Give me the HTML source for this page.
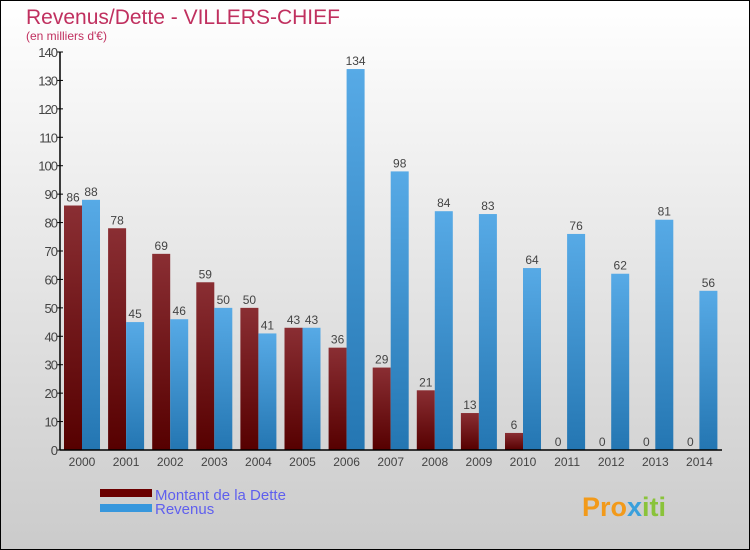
<!DOCTYPE html>
<html><head><meta charset="utf-8"><style>
body{margin:0}
#c{width:750px;height:550px;position:relative;box-sizing:border-box;border:1px solid #000;background:linear-gradient(#fff,#cbcbcb);font-family:"Liberation Sans",sans-serif;overflow:hidden}
</style></head><body>
<div id="c">
<svg id="s" width="750" height="550" style="position:absolute;left:-1px;top:-1px">
<defs>
<linearGradient id="gd" x1="0" y1="0" x2="0" y2="1"><stop offset="0" stop-color="#8a2e33"/><stop offset="1" stop-color="#560000"/></linearGradient>
<linearGradient id="gr" x1="0" y1="0" x2="0" y2="1"><stop offset="0" stop-color="#57aae6"/><stop offset="1" stop-color="#2476b2"/></linearGradient>
</defs>
<text x="26" y="24" font-size="21" fill="#c0305f">Revenus/Dette - VILLERS-CHIEF</text>
<text x="26" y="40" font-size="12" fill="#c0305f">(en milliers d'€)</text>
<g id="plot"></g>
<rect x="100" y="489" width="52" height="8" fill="#6b0000"/>
<rect x="100" y="504" width="52" height="8" fill="#3797dd"/>
<text x="155" y="500" font-size="15" fill="#5f5fee">Montant de la Dette</text>
<text x="155" y="514" font-size="15" fill="#5f5fee">Revenus</text>
<text x="582" y="516" font-size="27" font-weight="bold" fill="#f29a1a">Pro<tspan fill="#3aa0dc">x</tspan><tspan fill="#8ac33a">iti</tspan></text>
</svg>
</div>
<script>
const years=["2000","2001","2002","2003","2004","2005","2006","2007","2008","2009","2010","2011","2012","2013","2014"];
const dette=[86,78,69,59,50,43,36,29,21,13,6,0,0,0,0];
const revenus=[88,45,46,50,41,43,134,98,84,83,64,76,62,81,56];
const yTicks=[0,10,20,30,40,50,60,70,80,90,100,110,120,130,140];
const NS="http://www.w3.org/2000/svg";
const g=document.getElementById('plot');
const y0=450,yTop=52,yMax=140,x0=60;
function y(v){return y0-(v/yMax)*(y0-yTop);}
function gx(i){return 64+i*44.1;}
function mk(t,a){const e=document.createElementNS(NS,t);for(const k in a)e.setAttribute(k,a[k]);g.appendChild(e);return e;}
yTicks.forEach(v=>{
const t=mk('line',{x1:x0-3,x2:x0+3,y1:y(v),y2:y(v),stroke:'#000'});


const l=mk('text',{x:x0-3,y:y(v)+5,'font-size':13,'text-anchor':'end',fill:'#444','letter-spacing':'-1'});


l.textContent=v;
});
years.forEach((yr,i)=>{
const x=gx(i);
const b1=mk('rect',{x:x,y:y(dette[i]),width:18,height:y0-y(dette[i]),fill:'url(#gd)'});


const b2=mk('rect',{x:x+18,y:y(revenus[i]),width:18,height:y0-y(revenus[i]),fill:'url(#gr)'});


const t1=mk('text',{x:x+9,y:y(dette[i])-4,'font-size':12,'text-anchor':'middle',fill:'#444'});


t1.textContent=dette[i];
const t2=mk('text',{x:x+27,y:y(revenus[i])-4,'font-size':12,'text-anchor':'middle',fill:'#444'});


t2.textContent=revenus[i];
const xl=mk('text',{x:x+18,y:466,'font-size':12,'text-anchor':'middle',fill:'#444'});


xl.textContent=yr;
});
const ax=mk('line',{x1:x0,x2:x0,y1:yTop,y2:y0,stroke:'#000','stroke-width':1.5});


const bx=mk('line',{x1:x0,x2:722,y1:y0,y2:y0,stroke:'#000','stroke-width':1.5});


</script>
</body></html>
